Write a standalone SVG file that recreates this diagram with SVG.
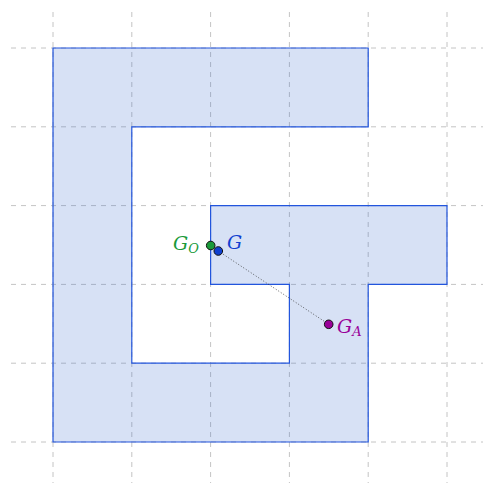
<svg xmlns="http://www.w3.org/2000/svg" width="483" height="483" viewBox="0 0 483 483">
<style>
.grid{stroke:#c4c4c4;stroke-width:1;stroke-dasharray:5,5;fill:none}
.shape{fill:rgb(55,105,205);fill-opacity:0.2;stroke:#2255dd;stroke-width:1.2}
.pt{stroke:#111;stroke-width:1}
.lbl{font-family:"DejaVu Serif","Liberation Serif",serif;font-style:italic;font-size:19px}
.sub{font-size:13px}
</style>
<rect width="483" height="483" fill="#fff"/>
<g id="grid" class="grid">
<line x1="53" y1="12" x2="53" y2="483"/>
<line x1="131.8" y1="12" x2="131.8" y2="483"/>
<line x1="210.6" y1="12" x2="210.6" y2="483"/>
<line x1="289.4" y1="12" x2="289.4" y2="483"/>
<line x1="368.2" y1="12" x2="368.2" y2="483"/>
<line x1="447" y1="12" x2="447" y2="483"/>
<line x1="11" y1="48" x2="483" y2="48"/>
<line x1="11" y1="126.8" x2="483" y2="126.8"/>
<line x1="11" y1="205.6" x2="483" y2="205.6"/>
<line x1="11" y1="284.4" x2="483" y2="284.4"/>
<line x1="11" y1="363.2" x2="483" y2="363.2"/>
<line x1="11" y1="442" x2="483" y2="442"/>
</g>
<g id="shape">
<polygon class="shape" points="53,48 368.2,48 368.2,126.8 131.8,126.8 131.8,363.2 289.4,363.2 289.4,284.4 210.6,284.4 210.6,205.6 447,205.6 447,284.4 368.2,284.4 368.2,442 53,442"/>
</g>
<g id="connectors">
<line x1="218.3" y1="251" x2="328.7" y2="324.3" stroke="#333" stroke-width="0.8" stroke-dasharray="1,2"/>
</g>
<g id="GO">
<circle class="pt" cx="210.7" cy="245.5" r="4.3" fill="#1a9a3a"/>
<text class="lbl" x="173" y="250" fill="#1a9a3a">G<tspan class="sub" dy="3">O</tspan></text>
</g>
<g id="G">
<circle class="pt" cx="218.3" cy="251" r="4.3" fill="#1040d0"/>
<text class="lbl" x="227" y="249" fill="#1040d0">G</text>
</g>
<g id="GA">
<circle class="pt" cx="328.7" cy="324.3" r="4.3" fill="#990099"/>
<text class="lbl" x="337" y="333" fill="#990099">G<tspan class="sub" dy="3">A</tspan></text>
</g>
</svg>
